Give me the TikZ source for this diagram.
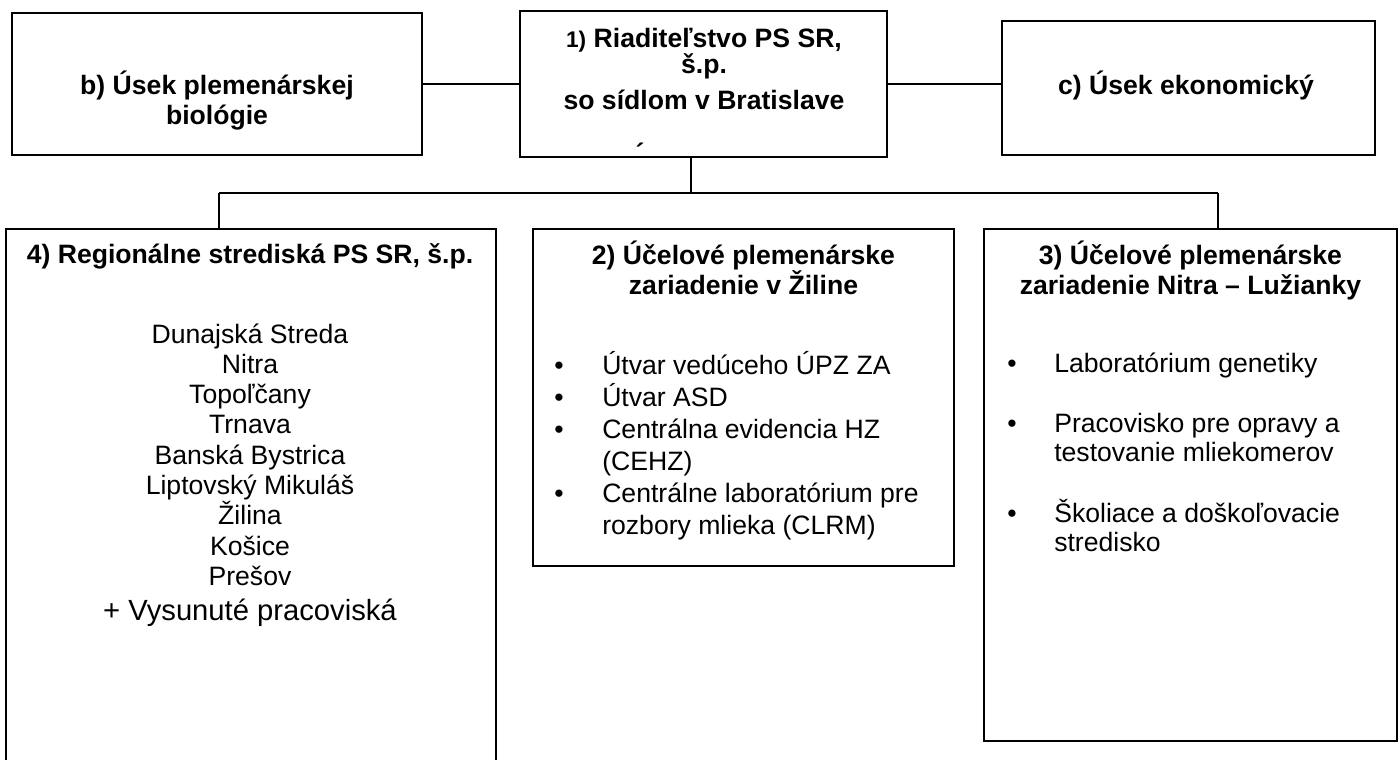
\documentclass[tikz,border=0pt]{standalone}
\usepackage{fontspec}
\setmainfont{Liberation Sans}
\begin{document}
\begin{tikzpicture}[x=0.75pt,y=-0.75pt,
  box/.style={draw, line width=1.4pt, inner sep=0pt},
  link/.style={line width=1.4pt},
  body/.style={inner sep=0pt, anchor=base, font=\fontsize{19.95}{24}\selectfont},
  head/.style={inner sep=0pt, anchor=base, font=\fontsize{19.95}{24}\selectfont\bfseries},
  item/.style={body, anchor=base west},
  big/.style={inner sep=0pt, anchor=base, font=\fontsize{21.9}{26}\selectfont}]
\useasboundingbox (0,0) rectangle (1400,760);
\fill[white] (0,0) rectangle (1400,760);
\clip (0,0) rectangle (1400,760);

% boxes
\node[box, minimum width=275.25pt, minimum height=109.5pt] (A) at (703.5,84) {};
\node[box, minimum width=307.5pt, minimum height=106.5pt] (B) at (217,84) {};
\node[box, minimum width=279.75pt, minimum height=100.5pt] (C) at (1188.5,88) {};
\node[box, minimum width=367.5pt, minimum height=420.75pt] (R4) at (251,509.5) {};
\node[box, minimum width=315.75pt, minimum height=252.75pt] (R2) at (743.5,397.5) {};
\node[box, minimum width=309.75pt, minimum height=384pt] (R3) at (1190.5,485) {};

% connectors
\coordinate (busA) at (691,193);
\coordinate (busL) at (219,193);
\coordinate (busR) at (1218,193);
\draw[link] (B.east) -- (A.west);
\draw[link] (A.east) -- (A.east -| C.west);
\draw[link] (busA |- A.south) -- (busA);
\draw[link] (busL) -- (busR);
\draw[link] (busL) -- (busL |- R4.north);
\draw[link] (busR) -- (busR |- R3.north);

% center box text
\node[head] (a1) at (704,47) {{\fontsize{17}{20}\selectfont 1)} Riaditeľstvo PS SR,};
\node[head] (a2) at (704,73) {š.p.};
\node[head] (a3) at (704,109) {so sídlom v Bratislave};
\node[inner sep=0pt, anchor=north, font=\fontsize{19.95}{24}\selectfont\bfseries] (a4) at (640,143) {´};

% b and c
\node[head] (b1) at (217,94) {b) Úsek plemenárskej};
\node[head] (b2) at (217,124) {biológie};
\node[head] (c1) at (1186,94) {c) Úsek ekonomický};

% box 4
\node[head] (r4t) at (250,263) {4) Regionálne strediská PS SR, š.p.};
\node[body] (m1) at (250,343) {Dunajská Streda};
\node[body] (m2) at (250,373.3) {Nitra};
\node[body] (m3) at (250,403.6) {Topoľčany};
\node[body] (m4) at (250,433.9) {Trnava};
\node[body] (m5) at (250,464.2) {Banská Bystrica};
\node[body] (m6) at (250,494.5) {Liptovský Mikuláš};
\node[body] (m7) at (250,524.8) {Žilina};
\node[body] (m8) at (250,555.1) {Košice};
\node[body] (m9) at (250,585.4) {Prešov};
\node[big] (m10) at (250,620) {+ Vysunuté pracoviská};

% box 2
\node[head] (r2a) at (743.5,264) {2) Účelové plemenárske};
\node[head] (r2b) at (743.5,294) {zariadenie v Žiline};
\node[body] (d1) at (559,374) {•};
\node[item] (i1) at (602,374) {Útvar vedúceho ÚPZ ZA};
\node[body] (d2) at (559,406) {•};
\node[item] (i2) at (602,406) {Útvar ASD};
\node[body] (d3) at (559,438) {•};
\node[item] (i3) at (602,438) {Centrálna evidencia HZ};
\node[item] (i3b) at (602,470) {(CEHZ)};
\node[body] (d4) at (559,502) {•};
\node[item] (i4) at (602,502) {Centrálne laboratórium pre};
\node[item] (i4b) at (602,534) {rozbory mlieka (CLRM)};

% box 3
\node[head] (r3a) at (1190.5,264) {3) Účelové plemenárske};
\node[head] (r3b) at (1190.5,294) {zariadenie Nitra – Lužianky};
\node[body] (e1) at (1012,372) {•};
\node[item] (j1) at (1054,372) {Laboratórium genetiky};
\node[body] (e2) at (1012,432) {•};
\node[item] (j2) at (1054,432) {Pracovisko pre opravy a};
\node[item] (j2b) at (1054,461) {testovanie mliekomerov};
\node[body] (e3) at (1012,522) {•};
\node[item] (j3) at (1054,522) {Školiace a doškoľovacie};
\node[item] (j3b) at (1054,551) {stredisko};
\end{tikzpicture}
\end{document}
